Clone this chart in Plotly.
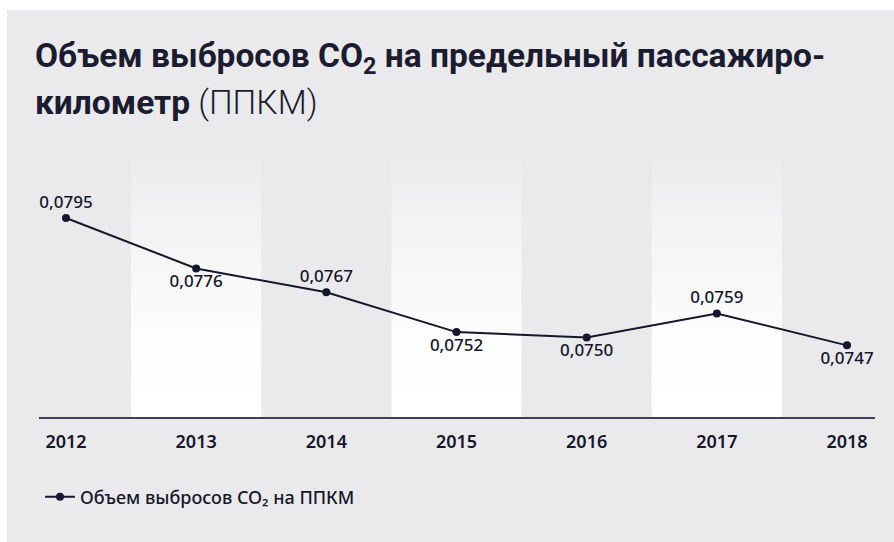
import plotly.graph_objects as go

years = [2012, 2013, 2014, 2015, 2016, 2017, 2018]
values = [0.0795, 0.0776, 0.0767, 0.0752, 0.0750, 0.0759, 0.0747]
label_pos = ["top center", "bottom center", "top center", "bottom center",
             "bottom center", "top center", "bottom center"]
band_years = [2013, 2015, 2017]
series_name = "Объем выбросов CO₂ на ППКМ"
title_line1 = "<b>Объем выбросов CO<sub>2</sub> на предельный пассажиро-</b>"
title_line2 = "<b>километр</b> (ППКМ)"

W, H = 894, 542
L, R, T, B = 39, 19, 157, 125
YMIN, YMAX = 0.0720, 0.0818

def px_x(p):
    return (p - L) / (W - L - R)

def px_y(p):
    return (H - B - p) / (H - T - B)

DARK = "#16172C"
BG = "#EAEAEC"

fig = go.Figure()

# alternating gradient bands
for yr in band_years:
    fig.add_trace(go.Scatter(
        x=[yr - 0.5, yr + 0.5, yr + 0.5, yr - 0.5, yr - 0.5],
        y=[YMIN, YMIN, YMAX, YMAX, YMIN],
        mode="lines", line=dict(width=0), fill="toself",
        fillgradient=dict(type="vertical",
                          colorscale=[[0, "#FFFFFF"], [0.3, "#FDFDFD"],
                                      [0.7, "#F4F4F5"], [1, "#ECECEE"]]),
        hoverinfo="skip", showlegend=False))

fig.add_trace(go.Scatter(
    x=years, y=values, name=series_name,
    mode="lines+markers+text",
    line=dict(color=DARK, width=2),
    marker=dict(color=DARK, size=8),
    text=[f"{v:.4f}".replace(".", ",") for v in values],
    textposition=label_pos,
    textfont=dict(family="Noto Sans", size=17, color=DARK, weight=500),
    hoverinfo="skip"))

fig.update_layout(
    width=W, height=H,
    margin=dict(l=L, r=R, t=T, b=B, pad=0),
    paper_bgcolor=BG, plot_bgcolor="rgba(0,0,0,0)",
    showlegend=True,
    legend=dict(x=px_x(40), y=px_y(497), xanchor="left", yanchor="middle",
                orientation="h", bgcolor="rgba(0,0,0,0)",
                font=dict(family="Noto Sans", size=18, color=DARK, weight=500)),
    xaxis=dict(range=[2011.7926, 2018.215], tickvals=years,
               ticktext=[str(y) for y in years],
               showgrid=False, zeroline=False, showline=True,
               linecolor="#3C3F55", linewidth=2, ticks="",
               tickfont=dict(family="Noto Sans", size=18, color=DARK, weight=600),
               ticklabelstandoff=7),
    yaxis=dict(range=[YMIN, YMAX], visible=False, showgrid=False),
    shapes=[
        dict(type="rect", xref="paper", yref="paper", x0=px_x(0), x1=px_x(W),
             y0=px_y(10), y1=px_y(0), fillcolor="#FFFFFF", line=dict(width=0), layer="below"),
        dict(type="rect", xref="paper", yref="paper", x0=px_x(0), x1=px_x(7),
             y0=px_y(H), y1=px_y(0), fillcolor="#FFFFFF", line=dict(width=0), layer="below"),
    ],
    annotations=[
        dict(text=title_line1, xref="paper", yref="paper", x=px_x(33), y=px_y(58),
             xanchor="left", yanchor="middle", showarrow=False,
             font=dict(family="Roboto", size=33.5, color="#1B1C30", weight=300)),
        dict(text=title_line2, xref="paper", yref="paper", x=px_x(33), y=px_y(102),
             xanchor="left", yanchor="middle", showarrow=False,
             font=dict(family="Roboto", size=33.5, color="#1B1C30", weight=300)),
    ],
)

fig.write_html("out.html",
               config={"displayModeBar": False, "staticPlot": True},
               post_script="document.body.style.margin='0';document.body.style.padding='0';"
                           "document.body.style.overflow='hidden';"
                           "document.body.style.background='#EAEAEC';"
                           "document.documentElement.style.background='#EAEAEC';")
